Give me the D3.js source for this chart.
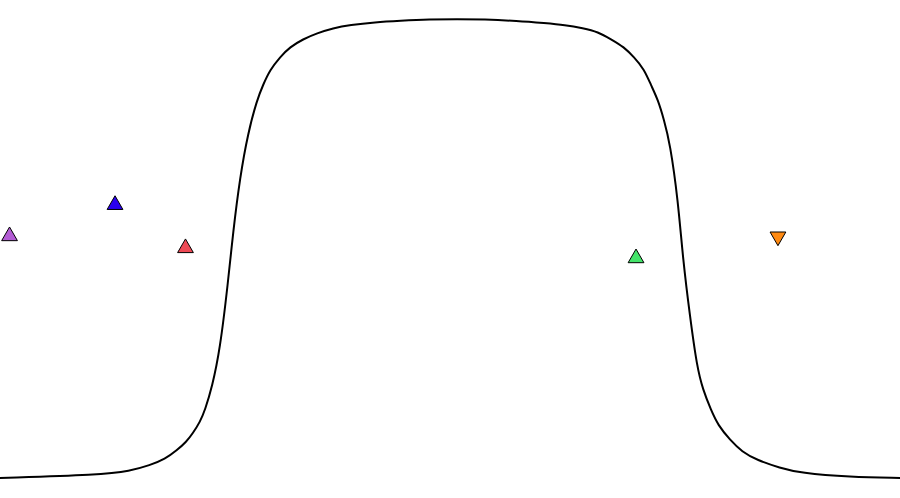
<!DOCTYPE html>
<html>
<head>
<meta charset="utf-8">
<script src="https://cdn.jsdelivr.net/npm/d3@7"></script>
<style>
  html, body { margin: 0; padding: 0; background: #fff; }
  svg { display: block; }
</style>
</head>
<body>
<svg id="chart" width="900" height="498"></svg>
<script>
// curve samples (x: 0..100, y: 0..1)
const curveX = [0, 11.11, 14.44, 16.67, 18.33, 19.67, 20.67, 21.44, 22.22, 22.78, 23.56, 24.44, 25.33, 25.89, 26.67, 27.56, 28.56, 29.22,
  30.0, 31.11, 32.22, 33.67, 35.22, 37.0, 38.89, 41.67, 44.44, 47.78, 50.78,
  53.78, 57.44, 60.56, 62.78, 64.78, 66.44, 67.89, 69.33, 70.44, 71.56, 72.33, 73.11, 73.78, 74.44, 75.33, 75.89, 76.67, 77.44,
  78.11, 79.0, 79.78, 81.11, 82.44, 84.11, 86.67, 88.89, 94.44, 100];
const curveY = [0, 0.007, 0.015, 0.028, 0.041, 0.061, 0.078, 0.098, 0.122, 0.148, 0.198, 0.279, 0.425, 0.534, 0.656, 0.752, 0.824, 0.856,
  0.889, 0.917, 0.939, 0.956, 0.969, 0.980, 0.987, 0.993, 0.996, 0.999, 1.0,
  0.999, 0.996, 0.991, 0.987, 0.980, 0.972, 0.956, 0.939, 0.917, 0.891, 0.856, 0.824, 0.780, 0.730, 0.606, 0.475, 0.351, 0.242,
  0.192, 0.148, 0.115, 0.083, 0.057, 0.039, 0.022, 0.011, 0.002, 0];

// markers
const markerX = [1.06, 12.78, 20.61, 70.67, 86.44];
const markerY = [0.527, 0.595, 0.501, 0.479, 0.526];
const markerColor = ["#b35cd4", "#2a00f0", "#ee4a55", "#44e46a", "#ff8a12"];
const markerDown = [false, false, false, false, true];

const svg = d3.select("#chart");
const width = 900, height = 498;

const x = d3.scaleLinear().domain([0, 100]).range([0, width]);
const y = d3.scaleLinear().domain([0, 1]).range([478, 19]);

const points = curveX.map((v, i) => [v, curveY[i]]);

// 曲线
svg.append("path")
  .datum(points)
  .attr("fill", "none")
  .attr("stroke", "#000")
  .attr("stroke-width", 2)
  .attr("d", d3.line()
    .x(d => x(d[0]))
    .y(d => y(d[1]))
    .curve(d3.curveBasis));

// 三角形标记
const tri = d3.symbol().type(d3.symbolTriangle).size(108);

svg.selectAll(".marker")
  .data(markerX.map((v, i) => ({ x: v, y: markerY[i], color: markerColor[i], down: markerDown[i] })))
  .enter()
  .append("path")
  .attr("class", "marker")
  .attr("d", tri)
  .attr("fill", d => d.color)
  .attr("stroke", "#000")
  .attr("stroke-width", 1)
  .attr("transform", d => `translate(${x(d.x)},${y(d.y)})` + (d.down ? " rotate(180)" : ""));
</script>
</body>
</html>
